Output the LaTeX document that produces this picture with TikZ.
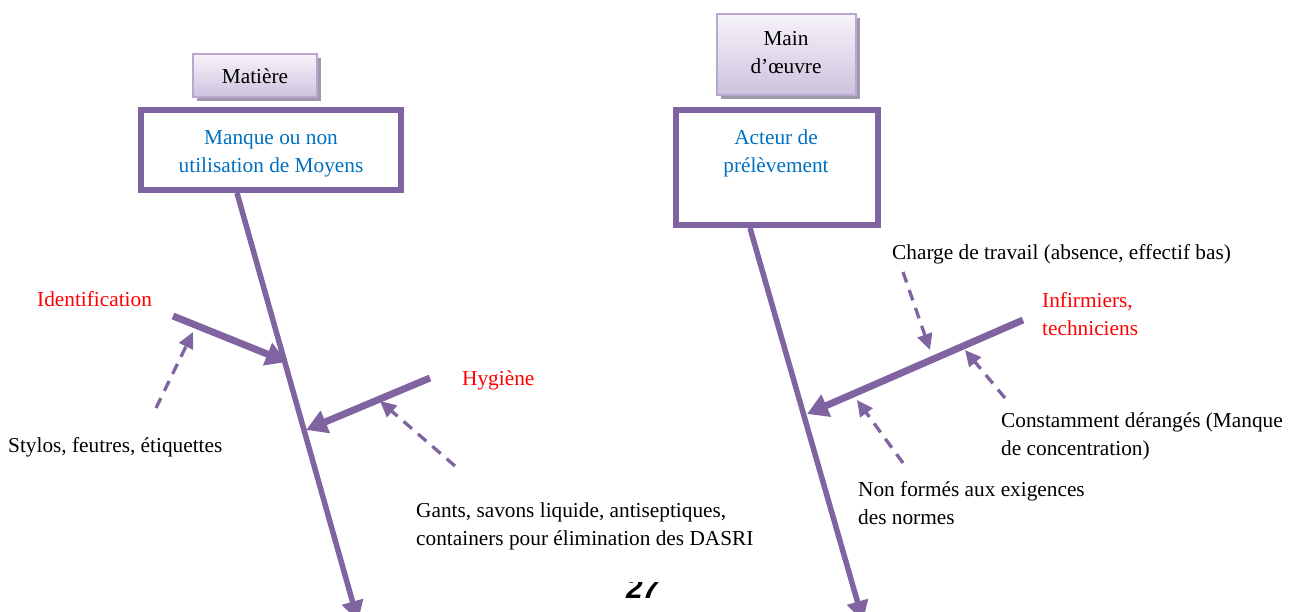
\documentclass[tikz,border=0pt]{standalone}
\usepackage{fontspec}
\setmainfont{Liberation Serif}
\newfontfamily\pagenumfont{Liberation Sans}
\usetikzlibrary{arrows.meta,shadows}
\definecolor{fpurple}{RGB}{128,100,162}
\definecolor{fblue}{RGB}{0,112,192}
\definecolor{fred}{RGB}{255,0,0}
\definecolor{boxtop}{RGB}{246,243,250}
\definecolor{boxbot}{RGB}{205,194,222}
\definecolor{boxline}{RGB}{184,168,206}
\definecolor{shadowgray}{RGB}{160,152,172}
\begin{document}
\begin{tikzpicture}[x=1pt,y=-1pt,
  txt/.style={font=\fontsize{21.3}{28}\selectfont, inner sep=0pt, align=left},
  ctxt/.style={font=\fontsize{21.3}{28}\selectfont, inner sep=0pt, align=center},
  catbox/.style={draw=boxline, line width=2pt, top color=boxtop, bottom color=boxbot,
    drop shadow={shadow xshift=4pt, shadow yshift=-4pt, fill=shadowgray, opacity=1},
    font=\fontsize{21.3}{28}\selectfont, align=center, inner sep=0pt},
  bigbox/.style={draw=fpurple, line width=6pt, fill=white, inner sep=0pt},
  spine/.style={draw=fpurple, line width=5.5pt, -{Triangle[length=20pt,width=21pt]}},
  branch/.style={draw=fpurple, line width=7pt, -{Triangle[length=21pt,width=23pt]}},
  dasharrow/.style={draw=fpurple, line width=3.3pt, dash pattern=on 11pt off 8pt,
    -{Triangle[length=16pt,width=15pt]}},
]
\useasboundingbox (0,0) rectangle (1296,612);

% ---------- left part ----------
\node[catbox, minimum width=124pt, minimum height=43pt] (matiere) at (255,76) {\raisebox{-2.5pt}{Matière}};
\node[bigbox, minimum width=260pt, minimum height=80pt] (box1) at (271,150) {};
\node[ctxt, text=fblue, anchor=base] (box1txt) at (271,173) {Manque ou non\\utilisation de Moyens};

\coordinate (s1top) at (237,193);
\coordinate (s1bot) at (358,621);
\draw[spine] (s1top) -- (s1bot);

\coordinate (b1s) at (173,316);
\coordinate (b1e) at (287,362);
\draw[branch] (b1s) -- (b1e);
\coordinate (b2s) at (430,378);
\coordinate (b2e) at (306,430);
\draw[branch] (b2s) -- (b2e);

\coordinate (d1s) at (156,408);
\coordinate (d1e) at (193,332);
\draw[dasharrow] (d1s) -- (d1e);
\coordinate (d2s) at (455,466);
\coordinate (d2e) at (380,401);
\draw[dasharrow] (d2s) -- (d2e);

\node[txt, text=fred, anchor=base west] (ident) at (37,307) {Identification};
\node[txt, text=fred, anchor=base west] (hyg) at (462,385) {Hygiène};
\node[txt, anchor=base west] (stylos) at (8,452) {Stylos, feutres, étiquettes};
\node[txt, anchor=base west] (gants) at (416,545) {Gants, savons liquide, antiseptiques,\\containers pour élimination des DASRI};

% ---------- right part ----------
\node[catbox, minimum width=139pt, minimum height=81pt] (mainoeuvre) at (786,55) {};
\node[ctxt, anchor=base] (mainoeuvretxt) at (786,74) {Main\\d’œuvre};
\node[bigbox, minimum width=202pt, minimum height=115pt] (box2) at (777,167.5) {};
\node[ctxt, text=fblue, anchor=base] (box2txt) at (776,173) {Acteur de\\prélèvement};

\coordinate (s2top) at (750,228);
\coordinate (s2bot) at (863,621);
\draw[spine] (s2top) -- (s2bot);

\coordinate (b3s) at (1023,320);
\coordinate (b3e) at (807,414);
\draw[branch] (b3s) -- (b3e);

\coordinate (d3s) at (903,272);
\coordinate (d3e) at (930,350);
\draw[dasharrow] (d3s) -- (d3e);
\coordinate (d4s) at (1005,398);
\coordinate (d4e) at (965,350);
\draw[dasharrow] (d4s) -- (d4e);
\coordinate (d5s) at (903,463);
\coordinate (d5e) at (857,400);
\draw[dasharrow] (d5s) -- (d5e);

\node[txt, anchor=base west] (charge) at (892,260) {Charge de travail (absence, effectif bas)};
\node[txt, text=fred, anchor=base west] (infirm) at (1042,335) {Infirmiers,\\techniciens};
\node[txt, anchor=base west] (constam) at (1001,455) {Constamment dérangés (Manque\\de concentration)};
\node[txt, anchor=base west] (nonform) at (858,524) {Non formés aux exigences\\des normes};

% ---------- page number (cut off) ----------
\begin{scope}
  \clip (600,582) rectangle (700,612);
  \node[inner sep=0pt, anchor=base west, font=\pagenumfont\fontsize{30}{30}\selectfont\bfseries\itshape] (pagenum) at (626,598) {27};
\end{scope}
\end{tikzpicture}
\end{document}
